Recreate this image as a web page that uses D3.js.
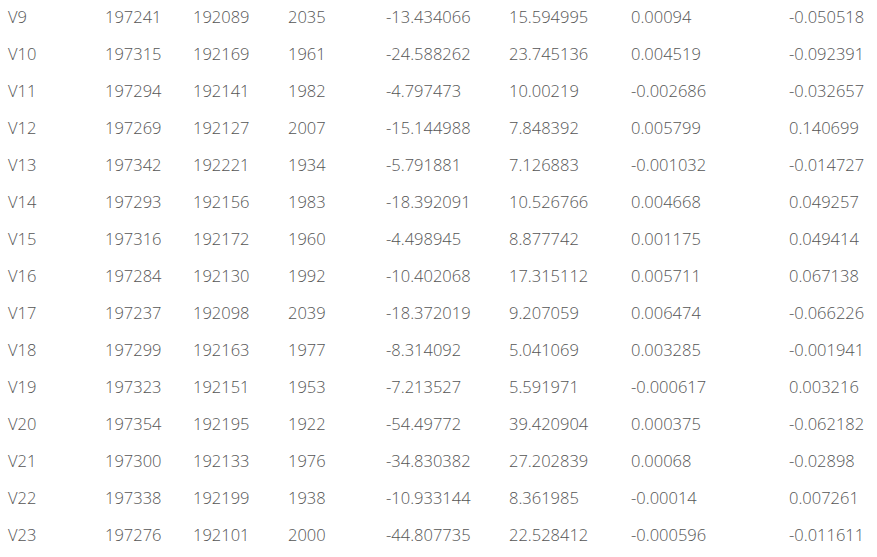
<!DOCTYPE html>
<html><head><meta charset="utf-8">
<script src="https://cdn.jsdelivr.net/npm/d3@7"></script>
<style>body{margin:0;background:#fff}</style>
</head><body>
<svg id="chart" width="877" height="557"></svg>
<script>
var rowNames=["V9","V10","V11","V12","V13","V14","V15","V16","V17","V18","V19","V20","V21","V22","V23"];
var colA=["197241","197315","197294","197269","197342","197293","197316","197284","197237","197299","197323","197354","197300","197338","197276"];
var colB=["192089","192169","192141","192127","192221","192156","192172","192130","192098","192163","192151","192195","192133","192199","192101"];
var colC=["2035","1961","1982","2007","1934","1983","1960","1992","2039","1977","1953","1922","1976","1938","2000"];
var colD=["-13.434066","-24.588262","-4.797473","-15.144988","-5.791881","-18.392091","-4.498945","-10.402068","-18.372019","-8.314092","-7.213527","-54.49772","-34.830382","-10.933144","-44.807735"];
var colE=["15.594995","23.745136","10.00219","7.848392","7.126883","10.526766","8.877742","17.315112","9.207059","5.041069","5.591971","39.420904","27.202839","8.361985","22.528412"];
var colF=["0.00094","0.004519","-0.002686","0.005799","-0.001032","0.004668","0.001175","0.005711","0.006474","0.003285","-0.000617","0.000375","0.00068","-0.00014","-0.000596"];
var colG=["-0.050518","-0.092391","-0.032657","0.140699","-0.014727","0.049257","0.049414","0.067138","-0.066226","-0.001941","0.003216","-0.062182","-0.02898","0.007261","-0.011611"];

var columns=[rowNames,colA,colB,colC,colD,colE,colF,colG];
var colX=[8,105,193,288,386,509,631,789];

var svg=d3.select("#chart");
var y=d3.scalePoint().domain(d3.range(rowNames.length)).range([17,535]);

columns.forEach(function(col,ci){
  svg.append("g").selectAll("text").data(col).enter().append("text")
    .attr("x",colX[ci])
    .attr("y",function(d,i){return y(i);})
    .attr("dy","0.35em")
    .style("font-family","'Open Sans','Noto Sans',sans-serif")
    .style("font-weight","300")
    .style("font-size","16.5px")
    .style("fill","#555")
    .text(function(d){return d;});
});
</script>
</body></html>
